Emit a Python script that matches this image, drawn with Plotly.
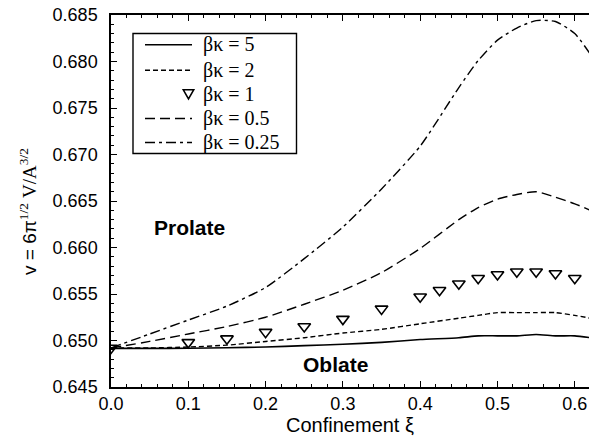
import plotly.graph_objects as go

# ---- data ----
xi_lines = [0.0, 0.05, 0.1, 0.15, 0.2, 0.25, 0.3, 0.35, 0.4, 0.45, 0.475, 0.5, 0.525, 0.55, 0.575, 0.6, 0.62]
v_bk5 = [0.64915, 0.64915, 0.64917, 0.64922, 0.6493, 0.64945, 0.6496, 0.6498, 0.6501, 0.6503, 0.6505, 0.6505, 0.6505, 0.65065, 0.6505, 0.6505, 0.6503]
v_bk2 = [0.6492, 0.6492, 0.6493, 0.6495, 0.6499, 0.6503, 0.6508, 0.6512, 0.6518, 0.6524, 0.6527, 0.6530, 0.6530, 0.6530, 0.6530, 0.6527, 0.6524]
v_bk05 = [0.6492, 0.6499, 0.6507, 0.6515, 0.6525, 0.6539, 0.6554, 0.6573, 0.6599, 0.6630, 0.6643, 0.6652, 0.6657, 0.6660, 0.6654, 0.6647, 0.6640]
v_bk025 = [0.6492, 0.6507, 0.6522, 0.6537, 0.6557, 0.6588, 0.6622, 0.6663, 0.6709, 0.6772, 0.6801, 0.6823, 0.6836, 0.6844, 0.6843, 0.6830, 0.6808]

xi_tri = [0.0, 0.1, 0.15, 0.2, 0.25, 0.3, 0.35, 0.4, 0.425, 0.45, 0.475, 0.5, 0.525, 0.55, 0.575, 0.6]
v_bk1 = [0.6492, 0.6498, 0.6502, 0.6509, 0.6515, 0.6523, 0.6534, 0.6547, 0.6554, 0.6561, 0.6567, 0.6571, 0.6574, 0.6574, 0.6572, 0.6567]

names = ["βκ = 5", "βκ = 2", "βκ = 1", "βκ = 0.5", "βκ = 0.25"]
dashes = ["solid", "5px,3px", None, "10px,5px", "10px,4px,3px,4px"]

W, H = 589, 442
ML, MR, MT, MB = 111, 0, 15, 55
PW, PH = W - ML - MR, H - MT - MB


def px(xp):
    return (xp - ML) / PW


def py(yp):
    return (H - MB - yp) / PH


fig = go.Figure()
fig.add_trace(go.Scatter(x=xi_lines, y=v_bk5, mode="lines", name=names[0],
                         line=dict(color="black", width=1.6, shape="spline", smoothing=0.6)))
fig.add_trace(go.Scatter(x=xi_lines, y=v_bk2, mode="lines", name=names[1],
                         line=dict(color="black", width=1.4, dash=dashes[1], shape="spline", smoothing=0.6)))
fig.add_trace(go.Scatter(x=xi_tri, y=v_bk1, mode="markers", name=names[2],
                         marker=dict(symbol="triangle-down-open", size=11, color="black",
                                     line=dict(width=1.6, color="black"))))
fig.add_trace(go.Scatter(x=xi_lines, y=v_bk05, mode="lines", name=names[3],
                         line=dict(color="black", width=1.4, dash=dashes[3], shape="spline", smoothing=0.6)))
fig.add_trace(go.Scatter(x=xi_lines, y=v_bk025, mode="lines", name=names[4],
                         line=dict(color="black", width=1.4, dash=dashes[4], shape="spline", smoothing=0.6)))

sans = "Liberation Sans, Arial, sans-serif"
serif = "Liberation Serif, Times New Roman, serif"

fig.update_layout(
    width=W, height=H,
    margin=dict(l=ML, r=MR, t=MT, b=MB),
    paper_bgcolor="white", plot_bgcolor="white",
    font=dict(family=sans, size=18, color="black"),
    showlegend=False,
    xaxis=dict(range=[0, 0.6184], dtick=0.1, tick0=0, tickformat=".1f",
               showline=True, linecolor="black", linewidth=1.5, mirror="ticks",
               ticks="inside", ticklen=6, tickwidth=1.3, tickcolor="black",
               showgrid=False, zeroline=False,
               minor=dict(dtick=0.02, ticks="inside", ticklen=3, tickwidth=1.1, tickcolor="black", showgrid=False),
               tickfont=dict(family=sans, size=18),
               title=dict(text="Confinement ξ", font=dict(family=sans, size=20), standoff=5)),
    yaxis=dict(range=[0.645, 0.685], dtick=0.005, tick0=0.645, tickformat=".3f",
               showline=True, linecolor="black", linewidth=1.5, mirror=False,
               ticks="inside", ticklen=6, tickwidth=1.3, tickcolor="black",
               showgrid=False, zeroline=False,
               minor=dict(dtick=0.001, ticks="inside", ticklen=3, tickwidth=1.1, tickcolor="black", showgrid=False),
               tickfont=dict(family=sans, size=18), ticklabelstandoff=8),
)

# ---- legend box drawn by hand ----
fig.add_shape(type="rect", xref="paper", yref="paper",
              x0=px(133), x1=px(296.5), y0=py(153.5), y1=py(33.5),
              line=dict(color="black", width=1.4), fillcolor="white", layer="above")
rows = [44.7, 70.3, 94.5, 118.5, 142.5]
for i, (nm, ds, ry) in enumerate(zip(names, dashes, rows)):
    if ds is None:
        cx, cy = 188.5, ry - 0.5
        path = (f"M{px(cx - 5.2)},{py(cy - 4.2)} L{px(cx + 5.2)},{py(cy - 4.2)} "
                f"L{px(cx)},{py(cy + 4.8)} Z")
        fig.add_shape(type="path", xref="paper", yref="paper", path=path,
                      line=dict(color="black", width=1.6), layer="above")
    else:
        fig.add_shape(type="line", xref="paper", yref="paper",
                      x0=px(145), x1=px(192), y0=py(ry), y1=py(ry),
                      line=dict(color="black", width=1.5 if ds == "solid" else 1.4, dash=ds),
                      layer="above")
    fig.add_annotation(xref="paper", yref="paper", x=px(200.5), y=py(ry), text=nm,
                       xanchor="left", yanchor="middle", showarrow=False,
                       font=dict(family=serif, size=20, color="black"))

fig.add_annotation(xref="paper", yref="paper", x=px(28), y=py(212),
                   text="v = 6π<sup><span style=\"font-family:'Liberation Serif'\">1/2</span></sup> "
                        "<span style=\"font-family:'Liberation Serif'\">V/A</span>"
                        "<sup><span style=\"font-family:'Liberation Serif'\">3/2</span></sup>",
                   textangle=-90, showarrow=False, font=dict(family=sans, size=19),
                   xanchor="center", yanchor="middle")

fig.add_annotation(x=0.102, y=0.6621, text="<b>Prolate</b>", showarrow=False,
                   font=dict(family=sans, size=21))
fig.add_annotation(x=0.290, y=0.6474, text="<b>Oblate</b>", showarrow=False,
                   font=dict(family=sans, size=21))

fig.write_html("out.html")
